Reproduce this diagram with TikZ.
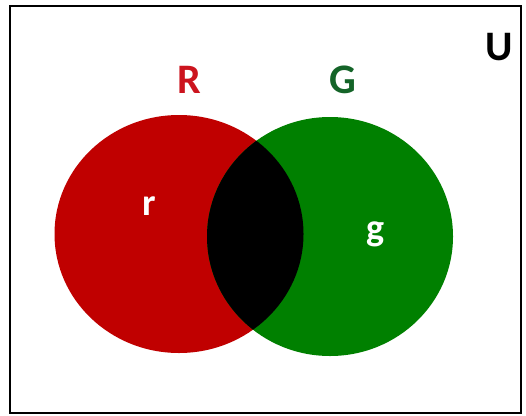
\documentclass[tikz,border=0pt]{standalone}
\usepackage{fontspec}
\setmainfont{Carlito}
\definecolor{setred}{RGB}{192,0,0}
\definecolor{setgreen}{RGB}{0,128,0}
\definecolor{labred}{RGB}{204,20,30}
\definecolor{labgreen}{RGB}{20,100,40}
\begin{document}
\begin{tikzpicture}[x=1pt,y=-1pt,
  lab/.style={font=\fontsize{42}{42}\selectfont\bfseries, inner sep=0pt, anchor=base},
  sub/.style={font=\fontsize{38}{38}\selectfont\bfseries, inner sep=0pt, anchor=base, text=white}]
\useasboundingbox (0,0) rectangle (526,415);
\fill[white] (0,0) rectangle (526,415);
\draw[line width=2.8pt] (10,6) rectangle (521,413);
\fill[setred] (179,234) ellipse [x radius=124.5, y radius=119];
\fill[setgreen] (330,236.5) ellipse [x radius=123, y radius=119.5];
\begin{scope}
  \clip (179,234) ellipse [x radius=124.5, y radius=119];
  \fill[black] (330,236.5) ellipse [x radius=123, y radius=119.5];
\end{scope}
\node[lab, text=labred] (R) at (189.5,93) {R};
\node[lab, text=labgreen] (G) at (343,93) {G};
\node[lab, text=black] (U) at (499,60) {U};
\node[sub] (r) at (149,215) {r};
\node[sub] (g) at (376,240) {g};
\end{tikzpicture}
\end{document}
